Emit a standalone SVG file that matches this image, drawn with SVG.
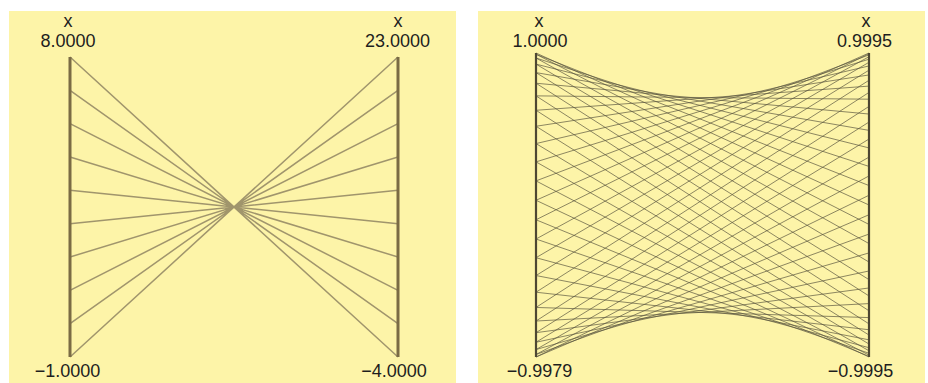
<svg xmlns="http://www.w3.org/2000/svg" width="928" height="383" viewBox="0 0 928 383">
<style>
.bg{fill:#fdf4a8}
.axis{stroke:#7a6b44;stroke-width:3;fill:none}
.axis2{stroke:#4e4732;stroke-width:2.2;fill:none}
.l1{stroke:#8f8461;stroke-width:1.5;stroke-opacity:0.85;fill:none}
.l2{stroke:#55503c;stroke-width:0.9;stroke-opacity:0.75;fill:none}
text{font-family:"Liberation Sans",Arial,sans-serif;font-size:18px;fill:#1e1e1e;text-anchor:middle}
</style>
<rect width="928" height="383" fill="#ffffff"/>
<g id="panel-left">
<rect class="bg" x="9" y="11" width="447" height="372"/>
<g id="connectors-left">
<path class="l1" d="M70,57L398,357M70,90.33L398,323.67M70,123.67L398,290.33M70,157L398,257M70,190.33L398,223.67M70,223.67L398,190.33M70,257L398,157M70,290.33L398,123.67M70,323.67L398,90.33M70,357L398,57"/>
</g>
<g id="axis-left-x">
<line class="axis" x1="70" y1="57" x2="70" y2="357"/>
<text x="68" y="27">x</text>
<text x="68" y="47">8.0000</text>
<text x="67.5" y="377">−1.0000</text>
</g>
<g id="axis-left-y">
<line class="axis" x1="398" y1="57" x2="398" y2="357"/>
<text x="398" y="27">x</text>
<text x="397.5" y="47">23.0000</text>
<text x="394" y="377">−4.0000</text>
</g>
</g>
<g id="panel-right">
<rect class="bg" x="478" y="11" width="447" height="372"/>
<g id="connectors-right">
<path class="l2" d="M536,53L869,205M536,54.25L869,185.55M536,57.98L869,166.42M536,64.12L869,147.93M536,72.58L869,130.37M536,83.22L869,114.04M536,95.86L869,99.2M536,110.29L869,86.1M536,126.28L869,74.95M536,143.57L869,65.94M536,161.87L869,59.21M536,180.88L869,54.87M536,200.28L869,53M536,219.77L869,53.62M536,239.02L869,56.73M536,257.71L869,62.28M536,275.54L869,70.17M536,292.21L869,80.27M536,307.46L869,92.42M536,321.02L869,106.42M536,332.68L869,122.04M536,342.25L869,139.02M536,349.57L869,157.08M536,354.51L869,175.93M536,357L869,195.26M536,357L869,214.74M536,354.51L869,234.07M536,349.57L869,252.92M536,342.25L869,270.98M536,332.68L869,287.96M536,321.02L869,303.58M536,307.46L869,317.58M536,292.21L869,329.73M536,275.54L869,339.83M536,257.71L869,347.72M536,239.02L869,353.27M536,219.77L869,356.38M536,200.28L869,357M536,180.88L869,355.13M536,161.87L869,350.79M536,143.57L869,344.06M536,126.28L869,335.05M536,110.29L869,323.9M536,95.86L869,310.8M536,83.22L869,295.96M536,72.58L869,279.63M536,64.12L869,262.07M536,57.98L869,243.58M536,54.25L869,224.45"/>
</g>
<g id="axis-right-x">
<line class="axis2" x1="536" y1="53" x2="536" y2="357"/>
<text x="539" y="27">x</text>
<text x="540" y="47">1.0000</text>
<text x="539.5" y="377">−0.9979</text>
</g>
<g id="axis-right-y">
<line class="axis2" x1="869" y1="53" x2="869" y2="357"/>
<text x="866" y="27">x</text>
<text x="864.5" y="47">0.9995</text>
<text x="860.5" y="377">−0.9995</text>
</g>
</g>
</svg>
